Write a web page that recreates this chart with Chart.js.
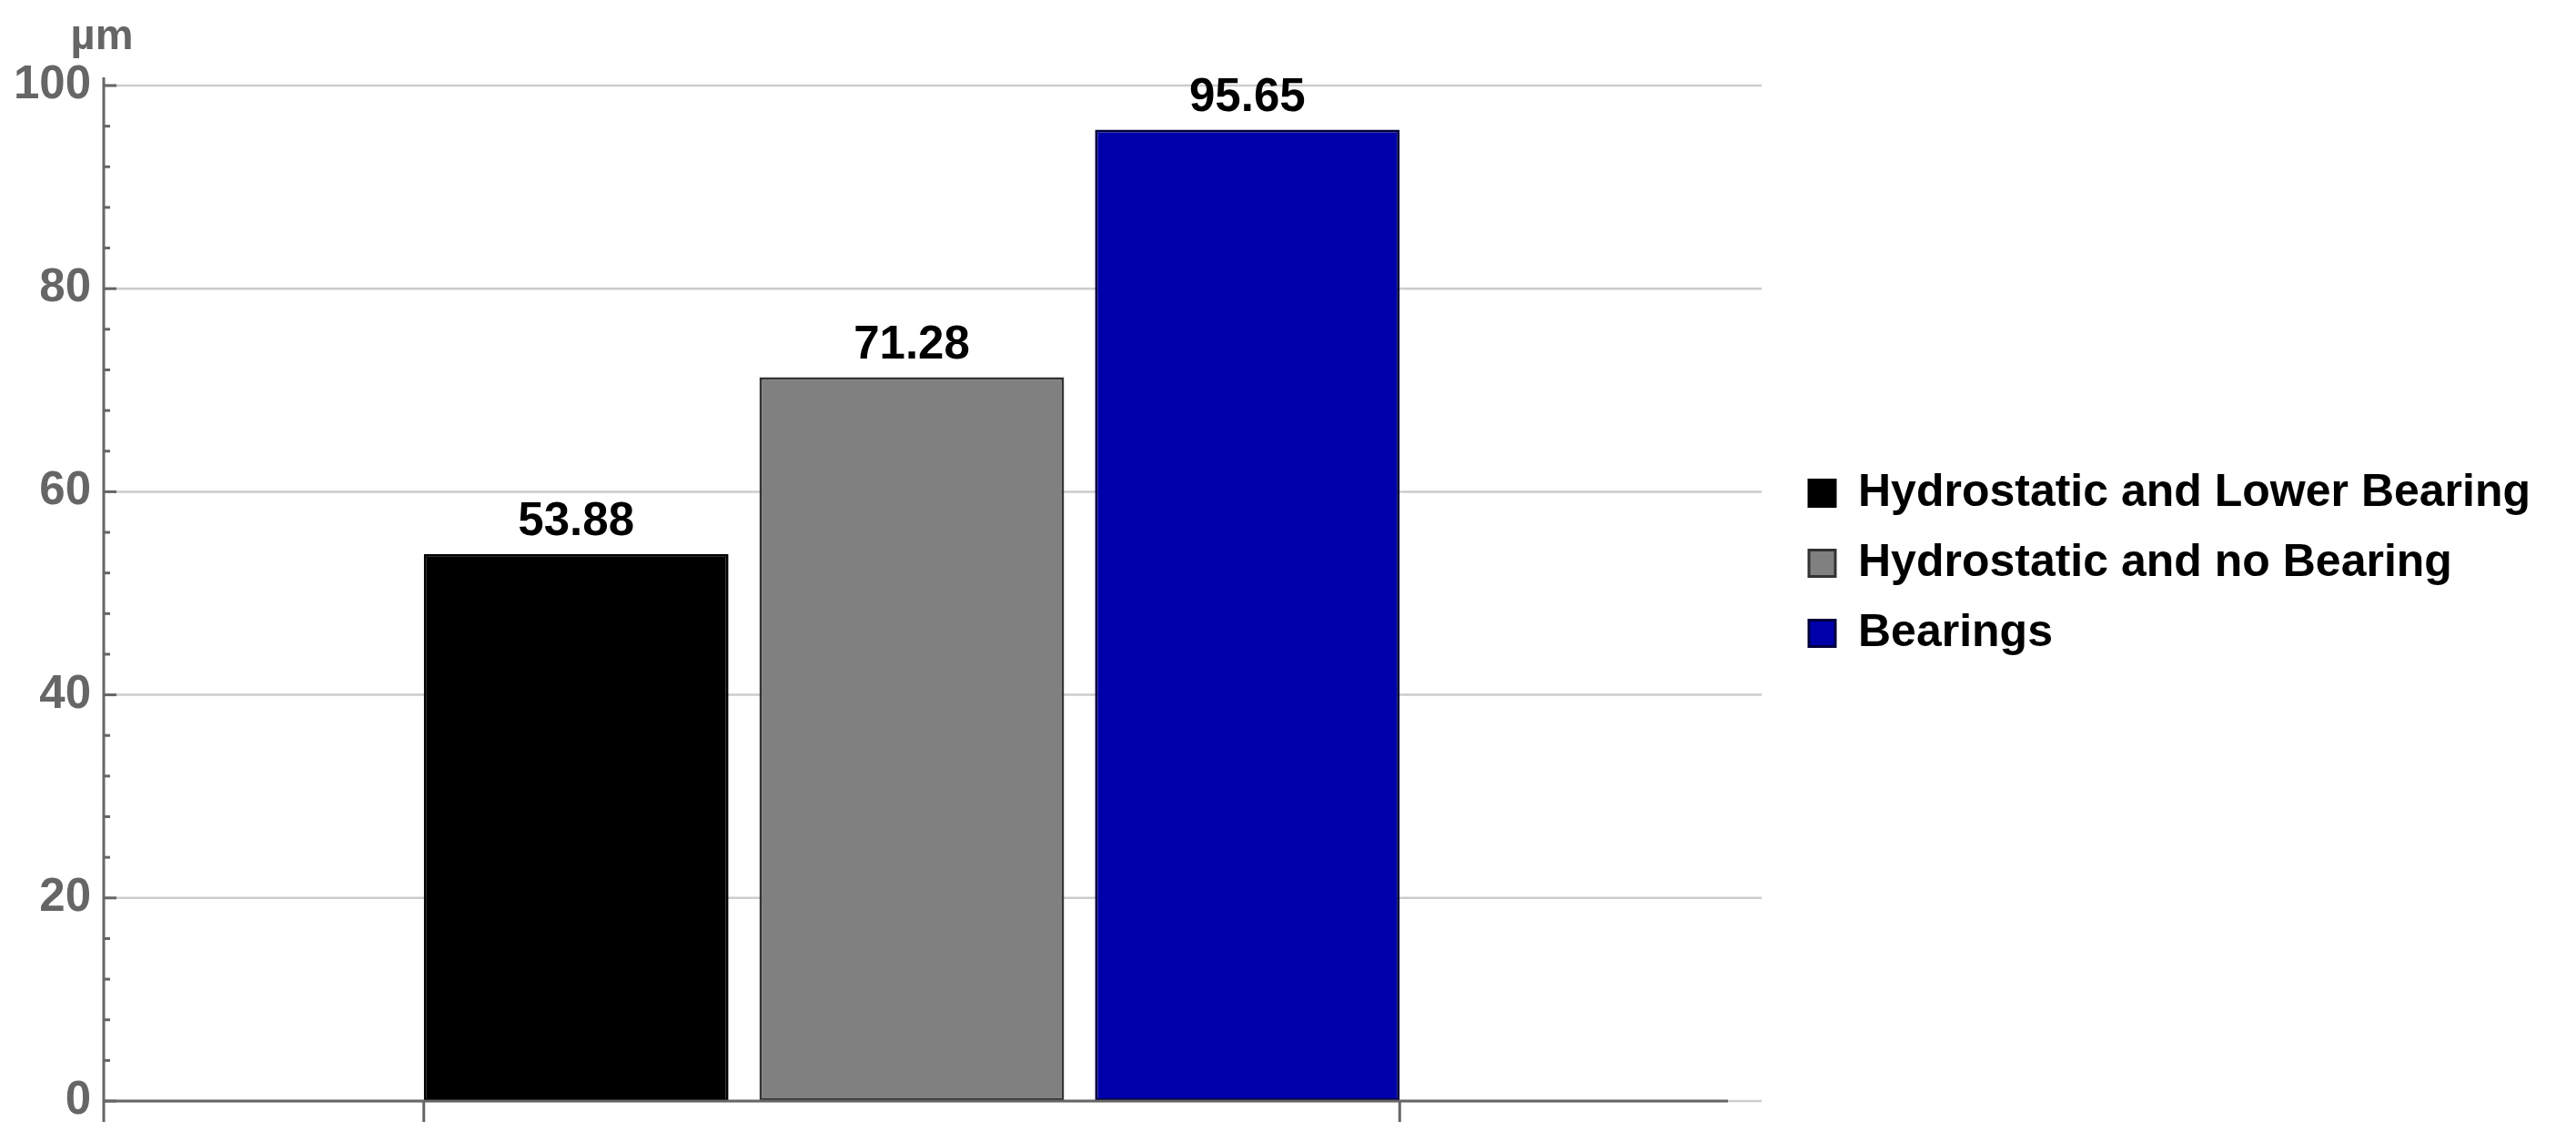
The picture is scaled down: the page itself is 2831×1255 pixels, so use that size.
<!DOCTYPE html>
<html>
<head>
<meta charset="utf-8">
<script src="https://cdn.jsdelivr.net/npm/chart.js@4.4.1/dist/chart.umd.min.js"></script>
<style>
  html, body { margin: 0; padding: 0; background: #fff; }
  #wrap { width: 2831px; height: 1255px; position: relative; }
</style>
</head>
<body>
<div id="wrap"><canvas id="chart-runout"></canvas></div>
<script>
const categories = [""];
const seriesNames = ["Hydrostatic and Lower Bearing", "Hydrostatic and no Bearing", "Bearings"];
const seriesValues = [53.88, 71.28, 95.65];
const seriesColors = ["#000000", "#808080", "#0000aa"];
const seriesBorders = ["#000000", "#333333", "#00003c"];
const yTickLabels = [0, 20, 40, 60, 80, 100];
const yMinorStep = 4;
const yUnit = "µm";

const FONT = "'Liberation Sans', Arial, Helvetica, sans-serif";
const AXIS_GREY = "#666666";

Chart.defaults.font.family = FONT;

// axes, ticks, value labels and unit drawn by hand, Mathematica style
const axesPlugin = {
  id: "axesPlugin",
  afterLayout(chart) {
    const lg = chart.legend;
    if (!lg) return;
    const w = lg.width;
    const h = lg.height;
    lg.left = chart.chartArea.right + 71;
    lg.top = 490;
    lg.right = lg.left + w;
    lg.bottom = lg.top + h;
  },
  beforeDatasetsDraw(chart) {
    const { ctx, chartArea } = chart;
    const y = chart.scales.y;
    ctx.save();
    ctx.strokeStyle = "#cccccc";
    ctx.lineWidth = 2.5;
    yTickLabels.forEach((v) => {
      const py = y.getPixelForValue(v);
      ctx.beginPath();
      ctx.moveTo(chartArea.left, py);
      ctx.lineTo(chartArea.right + 46, py);
      ctx.stroke();
    });
    ctx.restore();
  },
  afterDatasetsDraw(chart) {
    const { ctx, chartArea } = chart;
    const y = chart.scales.y;
    ctx.save();
    ctx.strokeStyle = AXIS_GREY;
    ctx.lineWidth = 3;

    // y axis line
    ctx.beginPath();
    ctx.moveTo(chartArea.left, chartArea.top - 9);
    ctx.lineTo(chartArea.left, chartArea.bottom + 23);
    ctx.stroke();

    // x axis line
    ctx.beginPath();
    ctx.moveTo(chartArea.left, chartArea.bottom);
    ctx.lineTo(chartArea.right + 9, chartArea.bottom);
    ctx.stroke();

    // inward ticks on y
    y.ticks.forEach((t) => {
      const py = y.getPixelForValue(t.value);
      const len = yTickLabels.includes(t.value) ? 14 : 7;
      ctx.beginPath();
      ctx.moveTo(chartArea.left, py);
      ctx.lineTo(chartArea.left + len, py);
      ctx.stroke();
    });

    // x ticks at the outer edges of the bar group
    const first = chart.getDatasetMeta(0).data[0];
    const last = chart.getDatasetMeta(seriesValues.length - 1).data[0];
    [first.x - first.width / 2, last.x + last.width / 2].forEach((px) => {
      ctx.beginPath();
      ctx.moveTo(px, chartArea.bottom);
      ctx.lineTo(px, chartArea.bottom + 23);
      ctx.stroke();
    });

    // values above bars
    ctx.fillStyle = "#000000";
    ctx.font = "bold 51px " + FONT;
    ctx.textAlign = "center";
    ctx.textBaseline = "alphabetic";
    seriesValues.forEach((v, i) => {
      const el = chart.getDatasetMeta(i).data[0];
      ctx.fillText(v.toFixed(2), el.x, el.y - 21);
    });

    // unit label
    ctx.fillStyle = AXIS_GREY;
    ctx.font = "bold 47px " + FONT;
    ctx.fillText(yUnit, chartArea.left - 2, 54);
    ctx.restore();
  },
};

const el = document.getElementById("chart-runout");

new Chart(el, {
  type: "bar",
  data: {
    labels: categories,
    datasets: seriesNames.map((name, i) => ({
      label: name,
      data: [seriesValues[i]],
      backgroundColor: seriesColors[i],
      borderColor: seriesBorders[i],
      borderWidth: 3,
      borderSkipped: false,
    })),
  },
  options: {
    responsive: true,
    maintainAspectRatio: false,
    animation: false,
    categoryPercentage: 0.623,
    barPercentage: 0.908,
    layout: {
      padding: { top: 94, right: 941, bottom: 45, left: 0 },
    },
    plugins: {
      legend: {
        position: "chartArea",
        align: "start",
        labels: {
          color: "#000000",
          font: { size: 50, weight: "bold" },
          boxWidth: 29,
          boxHeight: 29,
          padding: 27,
        },
      },
      tooltip: { enabled: false },
    },
    scales: {
      x: {
        display: false,
      },
      y: {
        min: 0,
        max: 100,
        grid: { display: false, drawTicks: false },
        border: { display: false },
        ticks: {
          stepSize: yMinorStep,
          maxTicksLimit: 40,
          autoSkip: false,
          padding: 14,
          color: AXIS_GREY,
          font: { size: 51, weight: "bold" },
          callback: (v) => (yTickLabels.includes(v) ? v : ""),
        },
        afterFit: (scale) => {
          scale.width = 114;
        },
      },
    },
  },
  plugins: [axesPlugin],
});
</script>
</body>
</html>
